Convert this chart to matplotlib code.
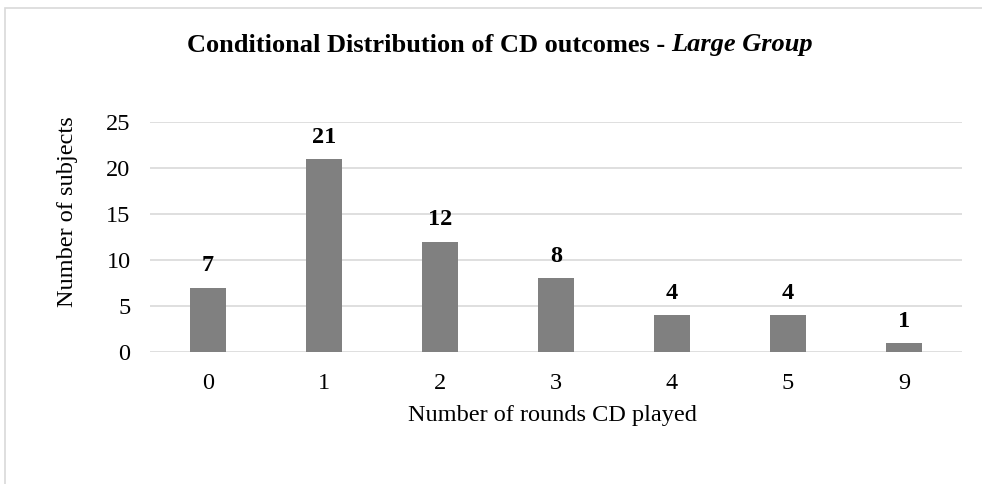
import matplotlib
matplotlib.use("Agg")
import matplotlib.pyplot as plt
from matplotlib.patches import Rectangle

categories = ["0", "1", "2", "3", "4", "5", "9"]
values = [7, 21, 12, 8, 4, 4, 1]
yticks = [0, 5, 10, 15, 20, 25]

plt.rcParams['font.family'] = ['Liberation Serif', 'DejaVu Serif']

fig = plt.figure(figsize=(9.82, 4.84), dpi=100)
fig.patches.append(Rectangle((5/982, -0.01), 1.0, 1 - 8/484 + 0.01, transform=fig.transFigure,
                             fill=False, edgecolor='#d9d9d9', linewidth=1.2))
ax = fig.add_axes([150/982, 1 - 352/484, 812/982, 230/484])

x = range(len(categories))
bars = ax.bar(x, values, width=0.31, color='#808080', zorder=3)
for xi, v in zip(x, values):
    ax.annotate(str(v), (xi, v), xytext=(0, 8), textcoords='offset points',
                ha='center', va='bottom', fontsize=17.5, fontweight='bold')

ax.set_xlim(-0.5, len(categories) - 0.5)
ax.set_ylim(0, 25)
ax.set_yticks(yticks)
ax.set_xticks(list(x))
ax.set_xticklabels(categories)
ax.tick_params(axis='both', length=0, labelsize=17.5)
ax.tick_params(axis='x', pad=15)
ax.tick_params(axis='y', pad=14)
ax.grid(axis='y', color='#d9d9d9', linewidth=1.2, zorder=0)
for s in ax.spines.values():
    s.set_visible(False)

ax.set_xlabel("Number of rounds CD played", fontsize=17.5, va='center')
ax.xaxis.set_label_coords(0.496, -0.278)
ax.set_ylabel("Number of subjects", fontsize=17.5, va='center')
ax.yaxis.set_label_coords(-0.101, 0.609)

t1 = fig.text(0, 0, "Conditional Distribution of CD outcomes - ", fontsize=19, fontweight='bold')
t2 = fig.text(0, 0, "Large Group", fontsize=19, fontweight='bold', style='italic')
fig.canvas.draw()
r = fig.canvas.get_renderer()
w1 = t1.get_window_extent(r).width
w2 = t2.get_window_extent(r).width
total = w1 + w2
cx = 500
start = cx - total / 2
yt = 484 - 45
t1.set_position((start / 982, yt / 484)); t1.set_va('center')
t2.set_position(((start + w1) / 982, yt / 484)); t2.set_va('center')

fig.savefig("out.png", dpi=100)
